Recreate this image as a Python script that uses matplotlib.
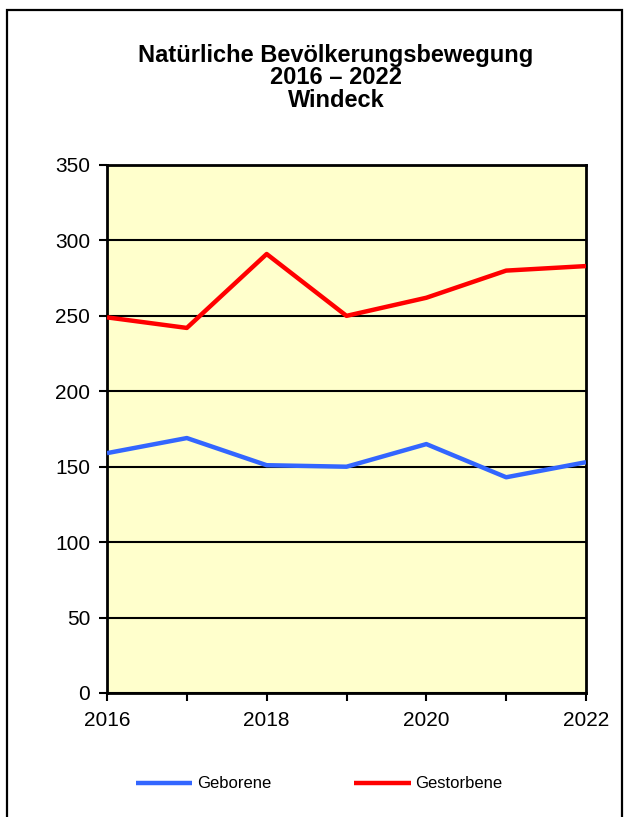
import matplotlib
matplotlib.use('Agg')
import matplotlib.pyplot as plt
from matplotlib.patches import Rectangle

plt.rcParams['font.family'] = ['Liberation Sans', 'DejaVu Sans']

jahre = [2016, 2017, 2018, 2019, 2020, 2021, 2022]
geborene = [159, 169, 151, 150, 165, 143, 153]
gestorbene = [249, 242, 291, 250, 262, 280, 283]

fig = plt.figure(figsize=(6.25, 8.17), dpi=100, facecolor='white')

# Rahmen um die Grafik (unten offen / abgeschnitten)
fig.patches.append(Rectangle((7 / 625, -0.05), 615 / 625, 1.05 - 10 / 817,
                             transform=fig.transFigure, fill=False,
                             edgecolor='black', linewidth=1.6))

ax = fig.add_axes([107 / 625, 1 - 693 / 817, 479 / 625, 528 / 817])
ax.set_facecolor('#FFFFCC')

ax.plot(jahre, geborene, color='#3366FF', linewidth=3.2, label='Geborene',
        solid_capstyle='butt', zorder=3)
ax.plot(jahre, gestorbene, color='#FF0000', linewidth=3.2, label='Gestorbene',
        solid_capstyle='butt', zorder=3)

ax.set_xlim(2016, 2022)
ax.set_ylim(0, 350)
ax.set_yticks(range(0, 351, 50))
ax.set_xticks(jahre)
ax.set_xticklabels([str(j) if j % 2 == 0 else '' for j in jahre])

ax.grid(axis='y', color='black', linewidth=1.5, zorder=1)
ax.set_axisbelow(True)
for s in ax.spines.values():
    s.set_linewidth(2)
    s.set_color('black')

ax.tick_params(axis='both', direction='out', length=6, width=1.5,
               labelsize=15, colors='black')
ax.tick_params(axis='y', pad=6)
ax.tick_params(axis='x', pad=7)

fig.text(336 / 625, 1 - 78 / 817,
         'Natürliche Bevölkerungsbewegung\n2016 – 2022\nWindeck',
         ha='center', va='center', fontsize=17, fontweight='bold',
         linespacing=0.97)

fig.legend(loc='center', bbox_to_anchor=(319 / 625, 1 - 784 / 817), ncol=2,
           frameon=False, fontsize=12, handlelength=3.4, handletextpad=0.25,
           columnspacing=5.0, borderpad=0)

fig.savefig('out.png', dpi=100, facecolor='white')
